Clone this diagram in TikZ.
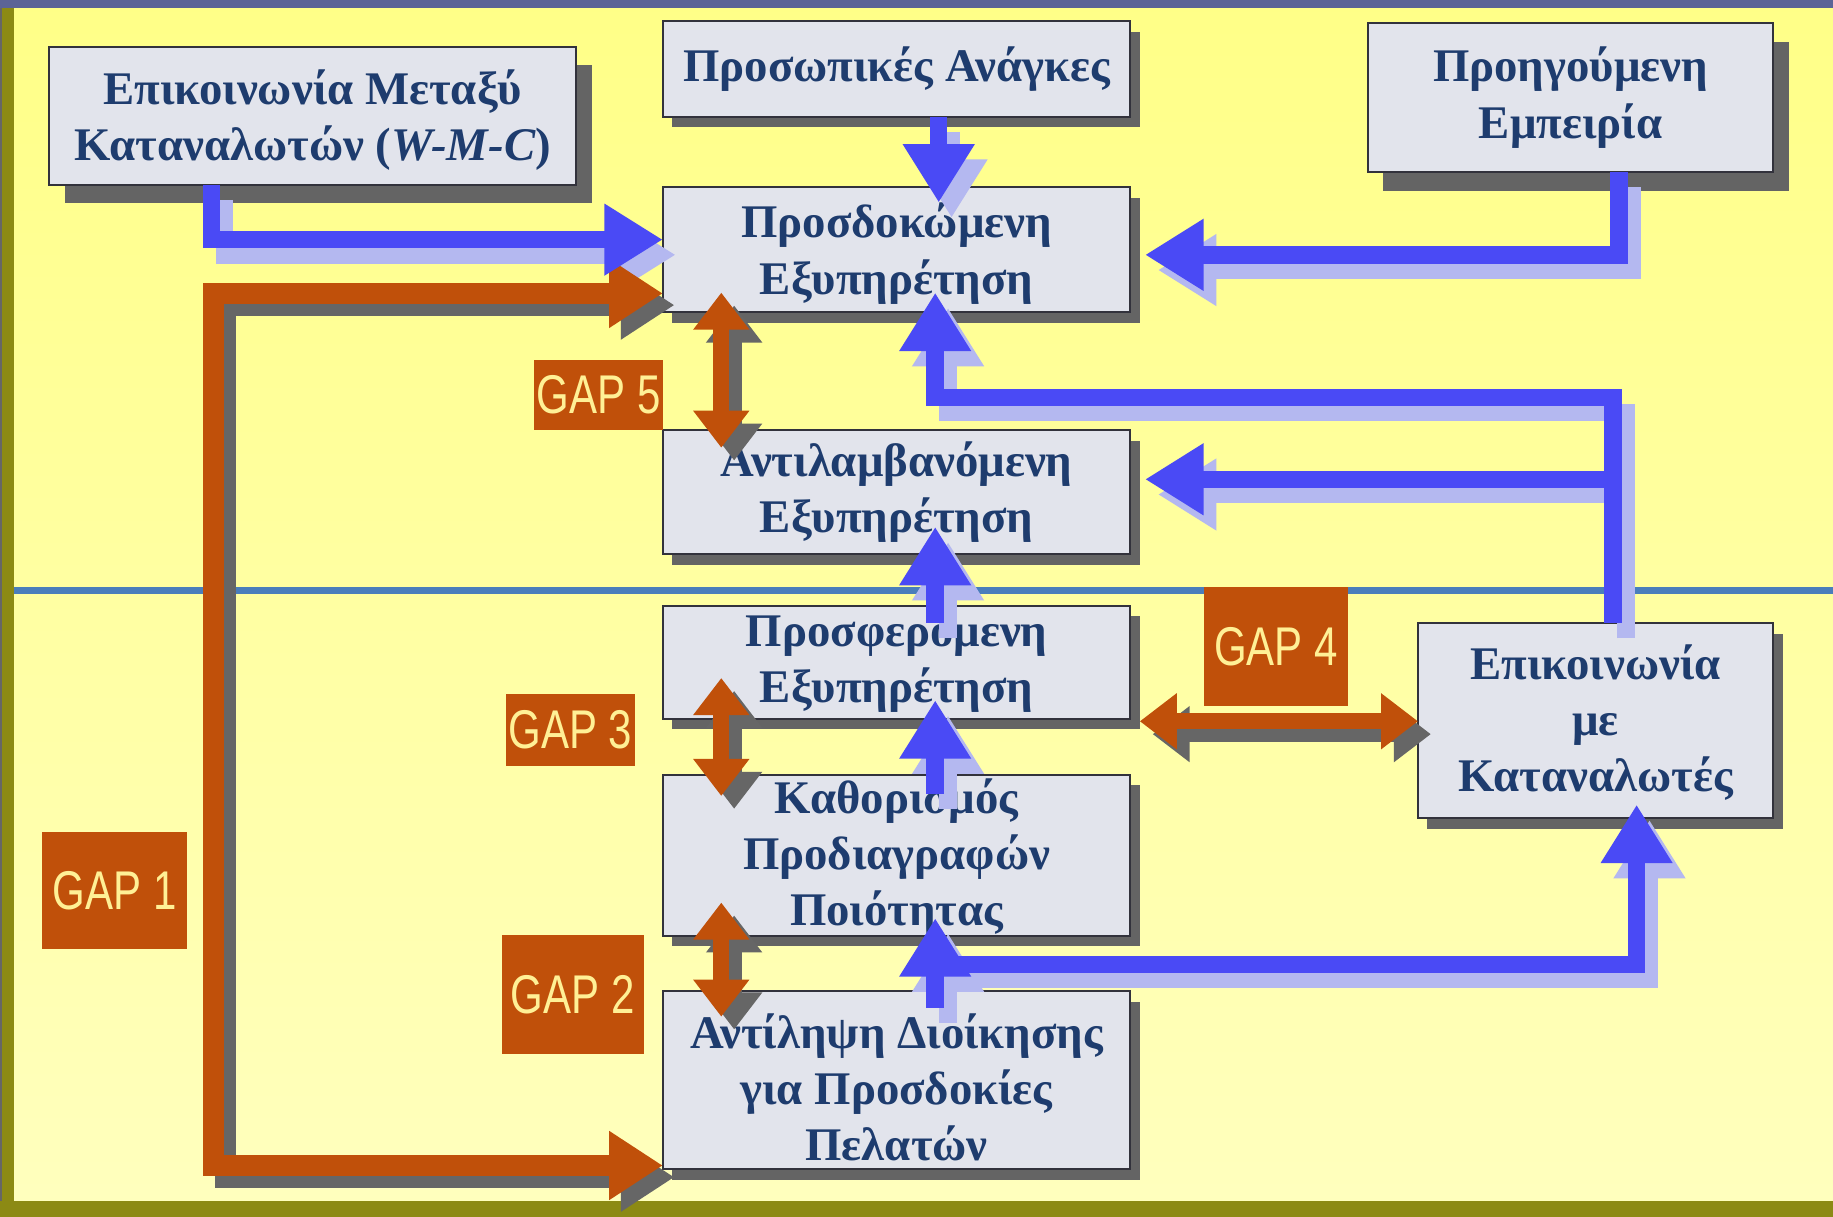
\documentclass[tikz,border=0pt]{standalone}
\usepackage{fontspec}
\setmainfont{Liberation Serif}
\newfontfamily\gapfont{Liberation Sans}
\usepackage{graphicx}
\usetikzlibrary{arrows.meta,shadows}
\definecolor{bluec}{RGB}{74,74,245}
\definecolor{blueshadow}{RGB}{180,184,240}
\definecolor{orangec}{RGB}{192,80,10}
\definecolor{grayshadow}{RGB}{102,102,102}
\definecolor{boxshadow}{RGB}{100,100,100}
\definecolor{boxfill}{RGB}{226,228,236}
\definecolor{boxline}{RGB}{50,50,60}
\definecolor{textc}{RGB}{30,60,110}
\definecolor{gaptext}{RGB}{255,240,150}
\definecolor{divc}{RGB}{74,126,187}
\definecolor{bgtop}{RGB}{255,255,135}
\definecolor{bgmid}{RGB}{255,255,160}
\definecolor{bgbot}{RGB}{255,255,190}
\definecolor{olivec}{RGB}{140,138,20}
\definecolor{topband}{RGB}{92,100,150}
\newcommand\pxu{0.6pt}
\newcommand\pushdn[1]{\rule{0pt}{#1}}
% all connectors, drawn with given styles: #1 blue, #2 orange L, #3 orange gap arrows
\newcommand\connectors[3]{%
  \draw[#2] (exp.west |- oTop) -- (oTop) -- (oBot) -- (mgmt.west |- oBot);
  \draw[#1] (wmc.south -| 181,0) |- (exp.west |- 0,205);
  \draw[#1, shorten >=-8pt] (needs.south -| 803,0) -- (exp.north -| 803,0);
  \draw[#1, shorten >=7.5pt] (past.south -| 1385,0) |- (exp.east |- 0,218);
  \draw[#1, shorten >=-10pt] (comm.north -| jA) -- (jA) -| (exp.south -| 800,0);
  \draw[#1, shorten >=7.5pt] (jB) -- (perc.east |- jB);
  \draw[#1, shorten <=-9pt, shorten >=-14pt] (offr.north -| 800,0) -- (perc.south -| 800,0);
  \draw[#1, shorten <=-10pt, shorten >=-9.6pt] (spec.north -| 800,0) -- (offr.south -| 800,0);
  \draw[#1, shorten <=-8.4pt, shorten >=-9pt] (mgmt.north -| 800,0) -- (spec.south -| 800,0);
  \draw[#1, shorten >=-7pt] (jC) -| (comm.south -| 1400,0);
  \draw[#3, shorten <=-10pt, shorten >=-9pt] (exp.south -| 617,0) -- (perc.north -| 617,0);
  \draw[#3, shorten <=-21pt, shorten >=-11pt] (offr.south -| 617,0) -- (spec.north -| 617,0);
  \draw[#3, shorten <=-17pt, shorten >=-13pt] (spec.south -| 617,0) -- (mgmt.north -| 617,0);
  \draw[#3, shorten <=4.8pt] (offr.east |- 0,617) -- (comm.west |- 0,617);
}
\begin{document}
\begin{tikzpicture}[x=0.6pt,y=-0.6pt,
  gbox/.style={draw=boxline, line width=1pt, fill=boxfill, inner sep=0pt, outer sep=0pt,
    align=center, text=textc, font=\bfseries\fontsize{24}{28.8}\selectfont},
  shd/.style={general shadow={fill=boxshadow, shadow xshift=4.8pt, shadow yshift=-5.4pt}},
  bigshd/.style={general shadow={fill=boxshadow, shadow xshift=8pt, shadow yshift=-9.6pt}},
  gaplbl/.style={fill=orangec, inner sep=0pt, outer sep=0pt, text=gaptext,
    font=\gapfont\fontsize{28}{28}\selectfont},
  bl/.style={draw=bluec, line width=9pt, line join=miter, -{Triangle[length=30pt,width=34.8pt]}},
  blsh/.style={bl, draw=blueshadow, transform canvas={shift={(11,13)}}},
  orL/.style={draw=orangec, line width=10.8pt, line join=miter,
    {Triangle[length=27.6pt,width=33.6pt]}-{Triangle[length=27.6pt,width=33.6pt]}},
  orLsh/.style={orL, draw=grayshadow, transform canvas={shift={(10,10)}}},
  orG/.style={draw=orangec, line width=8.4pt,
    {Triangle[length=19pt,width=27.6pt]}-{Triangle[length=19pt,width=27.6pt]}},
  orGsh/.style={orG, draw=grayshadow, transform canvas={shift={(11,11)}}},
]
\useasboundingbox (0,0) rectangle (1568,1041);
% background and frame
\shade[top color=bgtop, middle color=bgmid, bottom color=bgbot] (0,0) rectangle (1568,1041);
\fill[topband] (0,0) rectangle (1568,7);
\fill[olivec] (0,7) rectangle (12,1041);
\fill[grayshadow] (0,7) rectangle (2,1041);
\fill[olivec] (0,1027) rectangle (1568,1041);
\draw[divc, line width=3.6pt] (12,505) -- (1568,505);

% boxes
\node[gbox, bigshd, minimum width=451*\pxu, minimum height=118*\pxu] (wmc) at (267.5,99)
  {\pushdn{22pt}Επικοινωνία Μεταξύ\\Καταναλωτών (\textit{W-M-C})};
\node[gbox, shd, minimum width=400*\pxu, minimum height=82*\pxu] (needs) at (767,59)
  {Προσωπικές Ανάγκες};
\node[gbox, bigshd, minimum width=347*\pxu, minimum height=127*\pxu] (past) at (1343.5,83.5)
  {Προηγούμενη\\Εμπειρία};
\node[gbox, shd, minimum width=400*\pxu, minimum height=107*\pxu] (exp) at (767,213.5)
  {\pushdn{22pt}Προσδοκώμενη\\Εξυπηρέτηση};
\node[gbox, shd, minimum width=400*\pxu, minimum height=106*\pxu] (perc) at (767,421)
  {Αντιλαμβανόμενη\\Εξυπηρέτηση};
\node[gbox, shd, minimum width=400*\pxu, minimum height=97*\pxu] (offr) at (767,566.5)
  {Προσφερόμενη\\Εξυπηρέτηση};
\node[gbox, shd, minimum width=400*\pxu, minimum height=133*\pxu] (spec) at (767,731.5)
  {\pushdn{20pt}Καθορισμός\\Προδιαγραφών\\Ποιότητας};
\node[gbox, shd, minimum width=400*\pxu, minimum height=152*\pxu] (mgmt) at (767,924)
  {\pushdn{25pt}Αντίληψη Διοίκησης\\για Προσδοκίες\\Πελατών};
\node[gbox, shd, minimum width=304*\pxu, minimum height=167*\pxu] (comm) at (1365,616.5)
  {\pushdn{20pt}Επικοινωνία\\με\\Καταναλωτές};

% junction and corner points
\coordinate (jA) at (1380,340);
\coordinate (jB) at (1380,410);
\coordinate (jC) at (800,825);
\coordinate (oTop) at (183,251);
\coordinate (oBot) at (183,997);

% connectors: shadows first, then the arrows themselves
\connectors{blsh}{orLsh}{orGsh}
\connectors{bl}{orL}{orG}

% gap labels
\node[gaplbl, minimum width=110*\pxu, minimum height=60*\pxu] (g5) at (512,338) {\scalebox{0.77}[1]{GAP 5}};
\node[gaplbl, minimum width=110*\pxu, minimum height=61*\pxu] (g3) at (488,624.5) {\scalebox{0.77}[1]{GAP 3}};
\node[gaplbl, minimum width=123*\pxu, minimum height=102*\pxu] (g4) at (1091.5,553) {\scalebox{0.77}[1]{GAP 4}};
\node[gaplbl, minimum width=124*\pxu, minimum height=100*\pxu] (g1) at (98,762) {\scalebox{0.77}[1]{GAP 1}};
\node[gaplbl, minimum width=122*\pxu, minimum height=102*\pxu] (g2) at (490,851) {\scalebox{0.77}[1]{GAP 2}};
\end{tikzpicture}
\end{document}
